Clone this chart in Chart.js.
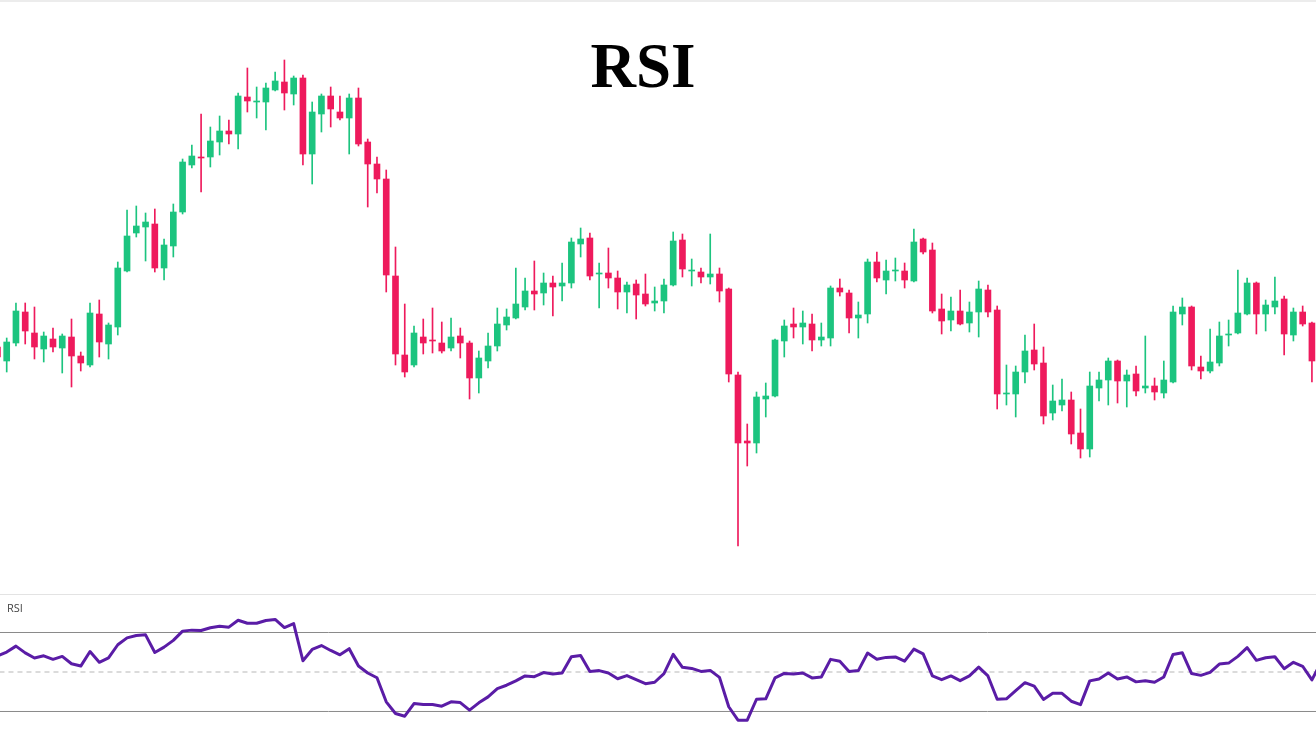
<!DOCTYPE html>
<html>
<head>
<meta charset="utf-8">
<title>RSI</title>
<script src="https://cdn.jsdelivr.net/npm/chart.js@4"></script>
<style>
  html, body { margin: 0; padding: 0; background: #ffffff; overflow: hidden; }
  #stage { position: relative; width: 1316px; height: 744px; background: #ffffff; }
  #topStrip { position: absolute; left: 0; top: 0; width: 1316px; height: 2px; background: #ececec; }
  #pricePane { position: absolute; left: 0; top: 0; width: 1316px; height: 594px; }
  #divider { position: absolute; left: 0; top: 594px; width: 1316px; height: 1px; background: #e3e3e3; }
  #rsiPane { position: absolute; left: 0; top: 595px; width: 1316px; height: 149px; }
  #title { position: absolute; left: 543px; top: 35px; width: 200px; text-align: center;
           font-family: "Liberation Serif", "DejaVu Serif", serif; font-weight: bold;
           font-size: 63px; line-height: 63px; color: #000; }
  #rsiLabel { position: absolute; left: 7px; top: 602px; font-family: "Open Sans", "Noto Sans", sans-serif;
              font-size: 11px; line-height: 11px; color: #444; }
</style>
</head>
<body>
<div id="stage">
  <div id="pricePane"><canvas id="priceCanvas" width="1316" height="594"></canvas></div>
  <div id="topStrip"></div>
  <div id="divider"></div>
  <div id="rsiPane"><canvas id="rsiCanvas" width="1316" height="149"></canvas></div>
  <div id="title">RSI</div>
  <div id="rsiLabel">RSI</div>
</div>
<script>
// Session index of the first candle (one partial candle sits left of the visible range)
const firstIndex = -1;

const opens = [
  353, 339, 357, 388, 367, 351, 361, 352, 363, 344,
  335, 386, 356, 373, 429, 467, 473, 476, 432, 454,
  488, 535, 543, 543, 558, 569, 566, 603, 598, 598,
  610, 618, 606, 622, 546, 586, 604, 588, 582, 602,
  558, 536, 521, 424, 345, 335, 363, 360, 357, 352,
  364, 357, 322, 339, 354, 375, 382, 393, 409, 407,
  417, 414, 417, 456, 462, 426, 427, 422, 408, 416,
  406, 397, 399, 415, 460, 429, 428, 423, 426, 411,
  325, 259, 257, 301, 304, 359, 376, 373, 376, 360,
  362, 412, 407, 382, 386, 438, 420, 429, 429, 419,
  461, 450, 391, 380, 389, 377, 388, 410, 390, 306,
  306, 328, 350, 337, 287, 295, 300, 267, 251, 312,
  320, 339, 319, 326, 312, 314, 307, 318, 386, 393,
  333, 329, 337, 365, 367, 386, 417, 386, 393, 401,
  365, 388, 377
];
const highs = [
  355, 362, 397, 397, 393, 368, 372, 366, 381, 348,
  397, 400, 377, 438, 490, 494, 487, 491, 461, 496,
  541, 555, 586, 573, 584, 580, 607, 632, 613, 617,
  628, 640, 624, 625, 598, 606, 613, 604, 606, 612,
  561, 543, 530, 453, 396, 374, 381, 392, 378, 382,
  372, 359, 349, 367, 392, 391, 432, 422, 439, 427,
  424, 437, 462, 472, 467, 437, 452, 429, 418, 420,
  426, 413, 421, 468, 466, 441, 432, 466, 432, 412,
  328, 276, 308, 317, 361, 380, 392, 389, 386, 377,
  414, 421, 410, 398, 441, 448, 440, 442, 437, 471,
  462, 457, 406, 403, 410, 398, 419, 415, 394, 335,
  334, 365, 376, 353, 315, 321, 308, 291, 328, 328,
  342, 340, 330, 334, 364, 322, 339, 394, 402, 394,
  344, 371, 378, 380, 430, 422, 418, 400, 423, 404,
  392, 394, 378
];
const lows = [
  340, 328, 354, 356, 341, 338, 348, 327, 313, 329,
  333, 343, 341, 365, 428, 463, 439, 428, 420, 443,
  486, 532, 508, 533, 545, 556, 551, 588, 582, 570,
  609, 590, 595, 535, 516, 568, 573, 580, 546, 554,
  493, 507, 408, 335, 323, 333, 346, 347, 347, 349,
  342, 301, 307, 332, 349, 370, 381, 390, 390, 395,
  384, 399, 412, 443, 420, 392, 412, 391, 387, 381,
  394, 389, 387, 414, 423, 414, 417, 416, 398, 318,
  154, 234, 247, 283, 303, 343, 362, 356, 349, 354,
  354, 404, 367, 362, 377, 418, 406, 419, 412, 418,
  446, 387, 366, 369, 375, 368, 363, 383, 291, 295,
  283, 317, 330, 276, 280, 289, 256, 242, 243, 299,
  295, 297, 293, 304, 307, 300, 302, 317, 375, 330,
  321, 327, 334, 354, 366, 385, 366, 369, 386, 345,
  359, 374, 318
];
const closes = [
  343, 358, 389, 369, 353, 364, 353, 364, 344, 337,
  387, 358, 375, 432, 464, 474, 478, 432, 455, 488,
  538, 544, 542, 559, 569, 566, 604, 599, 599, 612,
  619, 607, 622, 546, 588, 604, 591, 582, 602, 556,
  536, 521, 425, 346, 328, 367, 357, 359, 349, 363,
  357, 322, 342, 354, 376, 383, 396, 409, 406, 417,
  413, 417, 458, 461, 424, 427, 422, 408, 415, 405,
  396, 399, 415, 459, 431, 430, 423, 426, 409, 326,
  257, 257, 303, 304, 360, 374, 373, 377, 360, 363,
  412, 408, 382, 385, 438, 422, 429, 430, 420, 458,
  448, 389, 379, 389, 376, 388, 411, 388, 306, 307,
  328, 349, 336, 284, 299, 300, 266, 251, 314, 320,
  339, 319, 325, 309, 314, 308, 320, 388, 393, 334,
  329, 338, 364, 366, 387, 417, 386, 395, 399, 366,
  388, 376, 339
];

// 14-period RSI, one reading per session (starts at the same index as the candles)
const rsiValues = [
  58.1, 60.1, 63.1, 59.7, 57.1, 58.2, 56.4, 57.9, 54.2, 53.0,
  60.4, 54.9, 57.2, 63.8, 67.3, 68.5, 68.8, 59.9, 62.6, 66.0,
  70.7, 71.2, 71.0, 72.4, 73.2, 72.7, 76.2, 74.7, 74.7, 76.1,
  76.6, 72.5, 74.5, 55.7, 61.4, 63.4, 60.9, 58.7, 61.8, 53.0,
  49.5, 47.1, 34.9, 29.0, 27.6, 34.0, 33.5, 33.5, 32.7, 34.9,
  34.5, 30.7, 34.4, 37.4, 41.6, 43.3, 45.5, 48.0, 47.6, 49.7,
  49.0, 49.5, 57.7, 58.4, 50.3, 50.7, 49.5, 46.6, 48.2, 46.1,
  44.1, 44.8, 49.2, 58.9, 52.4, 51.8, 50.3, 50.8, 47.3, 32.4,
  25.6, 25.6, 36.2, 36.4, 47.0, 49.3, 49.0, 49.5, 47.0, 47.5,
  56.4, 55.4, 50.3, 50.7, 59.6, 56.5, 57.4, 57.6, 55.5, 61.6,
  59.2, 48.0, 46.1, 48.0, 45.6, 48.0, 52.5, 48.0, 36.2, 36.4,
  40.6, 44.6, 42.8, 36.1, 39.2, 39.2, 35.2, 33.5, 45.5, 46.5,
  49.5, 46.5, 47.5, 45.0, 45.6, 44.8, 47.5, 58.9, 59.7, 49.2,
  48.3, 49.8, 54.0, 54.5, 57.9, 62.3, 55.9, 57.2, 57.7, 51.7,
  54.9, 52.9, 46.0, 55.0
];

// RSI guide levels
const overbought = 70;
const midline = 50;
const oversold = 30;

const UP = '#1cc47f';
const DOWN = '#ee1a5c';
const RSI_COLOR = '#5a1ca6';

// Visible session window, shared by both panes so candles and RSI line up
const X_MIN = -0.724;
const X_MAX = 141.44;

const candleColor = ctx => {
  const i = ctx.dataIndex;
  return closes[i] >= opens[i] ? UP : DOWN;
};

const bodies = opens.map((o, i) => ({ x: firstIndex + i, y: [o, closes[i]] }));
const wicks = lows.map((l, i) => ({ x: firstIndex + i, y: [l, highs[i]] }));

const hiddenLinear = (min, max) => ({
  type: 'linear', min, max, display: false, offset: false, grace: 0,
  grid: { display: false }, ticks: { display: false }
});

new Chart(document.getElementById('priceCanvas'), {
  type: 'bar',
  data: {
    datasets: [
      {
        label: 'Body', data: bodies, grouped: false, barThickness: 6,
        backgroundColor: candleColor, borderWidth: 0, borderSkipped: false, order: 0
      },
      {
        label: 'Wick', data: wicks, grouped: false, barThickness: 1,
        backgroundColor: candleColor, borderWidth: 0, borderSkipped: false, order: 1
      }
    ]
  },
  options: {
    responsive: false,
    animation: false,
    devicePixelRatio: 1,
    layout: { padding: 0 },
    plugins: { legend: { display: false }, tooltip: { enabled: false }, title: { display: false } },
    scales: {
      x: hiddenLinear(X_MIN, X_MAX),
      y: hiddenLinear(106, 700)
    }
  }
});

const rsiPoints = rsiValues.map((v, i) => ({ x: firstIndex + i, y: v }));
const levelLine = v => [{ x: X_MIN - 2, y: v }, { x: X_MAX + 2, y: v }];

new Chart(document.getElementById('rsiCanvas'), {
  type: 'line',
  data: {
    datasets: [
      {
        label: 'RSI', data: rsiPoints, borderColor: RSI_COLOR, borderWidth: 3,
        pointRadius: 0, tension: 0, fill: false, order: 0,
        borderJoinStyle: 'round', borderCapStyle: 'round'
      },
      {
        label: 'Overbought', data: levelLine(overbought), borderColor: '#8a8a8a', borderWidth: 1,
        pointRadius: 0, fill: false, order: 1
      },
      {
        label: 'Midline', data: levelLine(midline), borderColor: '#cfcfcf', borderWidth: 1.5,
        borderDash: [5, 4], pointRadius: 0, fill: false, order: 2
      },
      {
        label: 'Oversold', data: levelLine(oversold), borderColor: '#8a8a8a', borderWidth: 1,
        pointRadius: 0, fill: false, order: 3
      }
    ]
  },
  options: {
    responsive: false,
    animation: false,
    devicePixelRatio: 1,
    layout: { padding: 0 },
    plugins: { legend: { display: false }, tooltip: { enabled: false }, title: { display: false } },
    scales: {
      x: hiddenLinear(X_MIN, X_MAX),
      y: hiddenLinear(13.54, 88.99)
    }
  }
});
</script>
</body>
</html>
